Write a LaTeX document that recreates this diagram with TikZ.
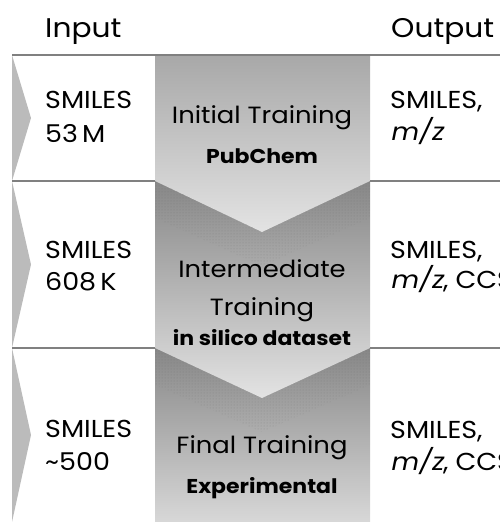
\documentclass[tikz,border=0pt]{standalone}
\usepackage{fontspec}
\setmainfont{Poppins}[FakeStretch=1.1, ItalicFont=Poppins, ItalicFeatures={FakeSlant=0.2}]
\usepackage{tikz}
\usetikzlibrary{patterns}

\definecolor{rulegray}{HTML}{808080}
\definecolor{wedgegray}{HTML}{BBBBBB}
\definecolor{darkband}{HTML}{878787}
\definecolor{lightband}{HTML}{E3E3E3}
\definecolor{toprow}{HTML}{A8A8A8}

\tikzset{
  rowline/.style={draw=rulegray, line width=1.6pt},
  wedge/.style={fill=wedgegray},
  head/.style={font=\fontsize{27}{32}\selectfont, inner sep=0pt, anchor=base west},
  celltext/.style={font=\fontsize{24.5}{28}\selectfont, inner sep=0pt, anchor=base west},
  stage/.style={font=\fontsize{23.5}{28}\selectfont, inner sep=0pt, anchor=base},
  source/.style={font=\bfseries\fontsize{20}{24}\selectfont, inner sep=0pt, anchor=base}
}

\begin{document}
\begin{tikzpicture}[x=1pt, y=-1pt]
				\useasboundingbox (0,0) rectangle (500,522);
				
				% middle column, stacked chevrons
				\shade[top color=darkband, bottom color=lightband!95!black] (155,348) rectangle (370,522);
				\shade[top color=darkband, bottom color=lightband] (155,181) -- (370,181) -- (370,348) -- (262,398) -- (155,348) -- cycle;
				\fill[pattern=dots, pattern color=gray!75!black, opacity=0.35] (155,348) -- (262,398) -- (370,348) -- (370,385) -- (262,432) -- (155,385) -- cycle;
				\shade[top color=toprow, bottom color=lightband] (155,55) -- (370,55) -- (370,181) -- (262,232) -- (155,181) -- cycle;
				\fill[pattern=dots, pattern color=gray!75!black, opacity=0.35] (155,181) -- (262,232) -- (370,181) -- (370,218) -- (262,266) -- (155,218) -- cycle;
				
				% left wedges
				\fill[wedge] (12,55) -- (31,118) -- (12,181) -- cycle;
				\fill[wedge] (12,181) -- (31,264.5) -- (12,348) -- cycle;
				\fill[wedge] (12,348) -- (31,435) -- (12,522) -- cycle;
				
				% rules
				\draw[rowline] (12,55) -- (500,55);
				\draw[rowline] (12,181) -- (155,181);
				\draw[rowline] (370,181) -- (500,181);
				\draw[rowline] (12,348) -- (155,348);
				\draw[rowline] (370,348) -- (500,348);
				
				% headers
				\node[head] (input) at (45,37) {Input};
				\node[head] (output) at (391,37) {Output};
				
				% row 1
				\node[celltext] (in1a) at (45,108) {SMILES};
				\node[celltext] (in1b) at (45,142) {53\,M};
				\node[stage] (st1) at (262,123) {Initial Training};
				\node[source] (src1) at (262,163) {PubChem};
				\node[celltext] (out1a) at (390,108) {SMILES,};
				\node[celltext] (out1b) at (390,140) {\textit{m/z}};
				
				% row 2
				\node[celltext] (in2a) at (45,258) {SMILES};
				\node[celltext] (in2b) at (45,290) {608\,K};
				\node[stage] (st2a) at (262,277) {Intermediate};
				\node[stage] (st2b) at (262,315) {Training};
				\node[source] (src2) at (262,345) {in silico dataset};
				\node[celltext] (out2a) at (390,258) {SMILES,};
				\node[celltext] (out2b) at (390,288) {\textit{m/z}, CCS};
				
				% row 3
				\node[celltext] (in3a) at (45,437) {SMILES};
				\node[celltext] (in3b) at (45,470) {\textasciitilde 500};
				\node[stage] (st3) at (262,453) {Final Training};
				\node[source] (src3) at (262,493) {Experimental};
				\node[celltext] (out3a) at (390,438) {SMILES,};
				\node[celltext] (out3b) at (390,470) {\textit{m/z}, CCS};
			\end{tikzpicture}
\end{document}
